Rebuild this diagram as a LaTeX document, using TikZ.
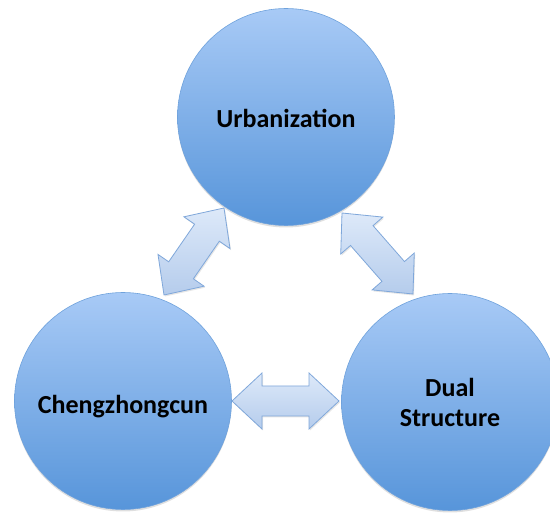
\documentclass[tikz,border=0pt]{standalone}
\usepackage{fontspec}
\setmainfont{Carlito}
\usetikzlibrary{calc,shadows}

\definecolor{ballTop}{HTML}{A8CAF6}
\definecolor{ballBot}{HTML}{5795DA}
\definecolor{ballLine}{HTML}{6FA2DC}
\definecolor{arrTop}{HTML}{DDE9F9}
\definecolor{arrBot}{HTML}{B5CCEC}
\definecolor{arrLine}{HTML}{7FA7DA}

\tikzset{
  ball/.style={circle, minimum size=217pt, inner sep=0pt,
    top color=ballTop, bottom color=ballBot, draw=ballLine, line width=0.6pt,
    drop shadow={opacity=0.25, shadow xshift=0pt, shadow yshift=-2pt},
    font=\bfseries\fontsize{26}{30}\selectfont, align=center, text=black},
  blockarrow/.style={top color=arrTop, bottom color=arrBot, draw=arrLine,
    line width=0.8pt, line join=miter,
    drop shadow={opacity=0.2, shadow xshift=1pt, shadow yshift=-1.5pt}}
}

% two-headed block arrow between the tip coordinates #1 and #2
\newcommand\twowayarrow[2]{%
  \coordinate (#1-h) at ($(#1)!30pt!(#2)$);
  \coordinate (#2-h) at ($(#2)!30pt!(#1)$);
  \path[blockarrow] (#1)
    -- ($(#1-h)!28pt!90:(#2)$) -- ($(#1-h)!15pt!90:(#2)$)
    -- ($(#2-h)!15pt!-90:(#1)$) -- ($(#2-h)!28pt!-90:(#1)$)
    -- (#2)
    -- ($(#2-h)!28pt!90:(#1)$) -- ($(#2-h)!15pt!90:(#1)$)
    -- ($(#1-h)!15pt!-90:(#2)$) -- ($(#1-h)!28pt!-90:(#2)$)
    -- cycle;
}

\begin{document}
\begin{tikzpicture}[x=1pt, y=-1pt]
  \useasboundingbox (0,0) rectangle (550,513);
  \clip (0,0) rectangle (550,513);

  % the three topics
  \node[ball] (urb)  at (286,117) {\raisebox{-1pt}[\height][\depth]{Urbanization}};
  \node[ball] (cheng) at (123,401) {\raisebox{-6pt}[\height][\depth]{Chengzhongcun}};
  \node[ball] (dual) at (450,402) {Dual\\Structure};

  % tips of the links between them
  \coordinate (l1) at (164,295);
  \coordinate (l2) at (224,208);
  \coordinate (r1) at (342,213);
  \coordinate (r2) at (413,294);
  \coordinate (h1) at (232,401);
  \coordinate (h2) at (339,401);

  \twowayarrow{l1}{l2}
  \twowayarrow{r1}{r2}
  \twowayarrow{h1}{h2}
\end{tikzpicture}
\end{document}
